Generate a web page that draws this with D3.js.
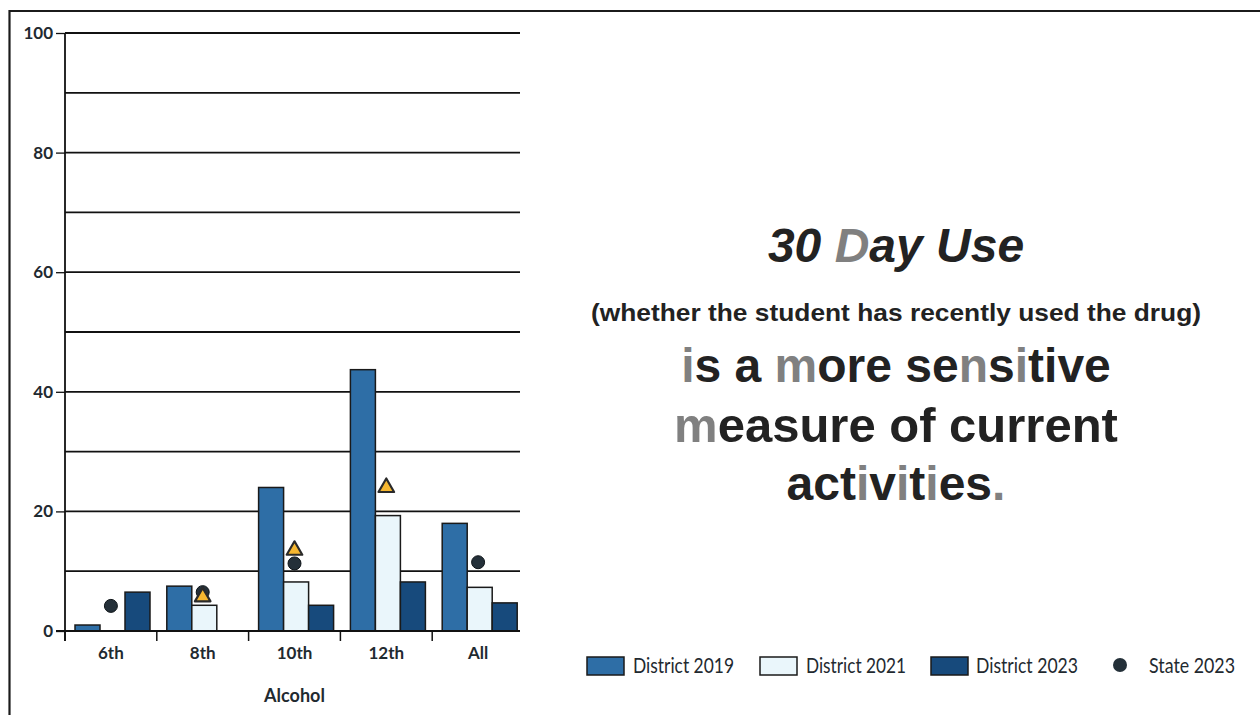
<!DOCTYPE html>
<html>
<head>
<meta charset="utf-8">
<script src="https://cdn.jsdelivr.net/npm/d3@7"></script>
<style>
  html, body { margin: 0; padding: 0; background: #fff; }
  svg { display: block; }
  .cond { font-family: Lato, "Open Sans", sans-serif; }
  .big { font-family: "Liberation Sans", Arial, sans-serif; font-weight: bold; fill: #222; }
</style>
</head>
<body>
<svg id="chart" width="1260" height="715"></svg>
<script>
// Grade groups and series (percent reporting 30-day alcohol use)
const categories = ["6th", "8th", "10th", "12th", "All"];
const seriesNames = ["District 2019", "District 2021", "District 2023"];
const district2019 = [1.0, 7.5, 24.0, 43.7, 18.0];
const district2021 = [null, 4.3, 8.2, 19.3, 7.3];
const district2023 = [6.5, null, 4.3, 8.2, 4.7];
const state2023 = [4.2, 6.5, 11.3, null, 11.5];
const triangleMarks = [null, 5.7, 13.5, 24.0, null];
const yTicks = [0, 20, 40, 60, 80, 100];
const gridValues = d3.range(0, 101, 10);
const xTitle = "Alcohol";

const colors = ["#2e6ea6", "#eaf6fb", "#174a7c"];

const svg = d3.select("#chart");

// Page frame
svg.append("line").attr("x1", 9).attr("x2", 1260).attr("y1", 11).attr("y2", 11)
  .attr("stroke", "#1b1b1b").attr("stroke-width", 2.2);
svg.append("line").attr("x1", 9.5).attr("x2", 9.5).attr("y1", 10).attr("y2", 715)
  .attr("stroke", "#1b1b1b").attr("stroke-width", 2.2);

const plotLeft = 65, plotRight = 524, gridRight = 520;
const y = d3.scaleLinear().domain([0, 100]).range([631, 33]);
const x = d3.scaleBand().domain(categories).range([plotLeft, plotRight]).paddingInner(0).paddingOuter(0);
const xs = d3.scaleBand().domain(seriesNames).range([10, 85]).padding(0);

const g = svg.append("g");

// Horizontal gridlines
g.selectAll("line.grid").data(gridValues).join("line")
  .attr("class", "grid")
  .attr("x1", plotLeft).attr("x2", gridRight)
  .attr("y1", d => y(d)).attr("y2", d => y(d))
  .attr("stroke", "#111").attr("stroke-width", 1.8);

// Y axis
const yAxis = d3.axisLeft(y).tickValues(yTicks).tickSize(9).tickPadding(3);
const yG = g.append("g").attr("transform", `translate(${plotLeft},0)`).call(yAxis);
yG.select(".domain").remove();
yG.selectAll(".tick line").attr("stroke", "#111").attr("stroke-width", 1.3);
yG.selectAll(".tick text").attr("class", "cond").style("font-size", "17px")
  .style("font-weight", "bold").attr("fill", "#1f2a30");
g.append("line").attr("x1", plotLeft).attr("x2", plotLeft).attr("y1", y(100)).attr("y2", y(0) + 10)
  .attr("stroke", "#111").attr("stroke-width", 1.8);

// Bars
const seriesData = [district2019, district2021, district2023];
seriesData.forEach((vals, si) => {
  g.append("g").selectAll("rect").data(vals.map((v, i) => ({ c: categories[i], v })).filter(d => d.v != null))
    .join("rect")
    .attr("x", d => x(d.c) + xs(seriesNames[si]))
    .attr("width", xs.bandwidth())
    .attr("y", d => y(d.v))
    .attr("height", d => y(0) - y(d.v))
    .attr("fill", colors[si])
    .attr("stroke", "#1a1a1a").attr("stroke-width", 1.5);
});

// X axis baseline and group ticks
g.append("line").attr("x1", plotLeft - 9).attr("x2", gridRight).attr("y1", y(0)).attr("y2", y(0))
  .attr("stroke", "#111").attr("stroke-width", 1.8);
g.selectAll("line.xtick").data(categories).join("line")
  .attr("class", "xtick")
  .attr("x1", d => x(d)).attr("x2", d => x(d))
  .attr("y1", y(0)).attr("y2", y(0) + 10)
  .attr("stroke", "#111").attr("stroke-width", 1.5);
g.selectAll("text.xlab").data(categories).join("text")
  .attr("class", "xlab cond")
  .attr("x", d => x(d) + x.bandwidth() / 2)
  .attr("y", 659)
  .attr("text-anchor", "middle")
  .style("font-size", "17px").style("font-weight", "bold").attr("fill", "#1f2a30")
  .text(d => d);
g.append("text").attr("class", "cond")
  .attr("x", (plotLeft + plotRight) / 2).attr("y", 702)
  .attr("text-anchor", "middle")
  .style("font-size", "18px").style("font-weight", "bold").attr("fill", "#1f2a30")
  .text(xTitle);

const center = c => x(c) + x.bandwidth() / 2;

// State markers
g.selectAll("circle.state").data(state2023.map((v, i) => ({ c: categories[i], v })).filter(d => d.v != null))
  .join("circle")
  .attr("class", "state")
  .attr("cx", d => center(d.c)).attr("cy", d => y(d.v)).attr("r", 6.5)
  .attr("fill", "#243039").attr("stroke", "#0e1418").attr("stroke-width", 1);

// Triangle markers
const tri = d3.symbol().type(d3.symbolTriangle).size(105);
g.selectAll("path.tri").data(triangleMarks.map((v, i) => ({ c: categories[i], v })).filter(d => d.v != null))
  .join("path")
  .attr("class", "tri")
  .attr("transform", d => `translate(${center(d.c)},${y(d.v)})`)
  .attr("d", tri)
  .attr("fill", "#f6b730").attr("stroke", "#2a2a2a").attr("stroke-width", 2.2)
  .attr("stroke-linejoin", "round");

// Legend
const legend = svg.append("g");
const legendItems = [
  { name: "District 2019", x: 587, tx: 633, w: 101, type: "rect", color: colors[0] },
  { name: "District 2021", x: 760, tx: 806, w: 100, type: "rect", color: colors[1] },
  { name: "District 2023", x: 931, tx: 976, w: 102, type: "rect", color: colors[2] },
  { name: "State 2023", x: 1120, tx: 1149, w: 86, type: "dot" }
];
legendItems.forEach(it => {
  if (it.type === "rect") {
    legend.append("rect").attr("x", it.x).attr("y", 657).attr("width", 37).attr("height", 18)
      .attr("fill", it.color).attr("stroke", "#1a1a1a").attr("stroke-width", 1.5);
  } else {
    legend.append("circle").attr("cx", it.x).attr("cy", 665).attr("r", 7)
      .attr("fill", "#243039");
  }
  legend.append("text").attr("class", "cond").attr("x", it.tx).attr("y", 673)
    .attr("textLength", it.w).attr("lengthAdjust", "spacingAndGlyphs")
    .style("font-size", "22px").attr("fill", "#1f2a30").text(it.name);
});

// Side note text; some letters are printed in a lighter grey
const note = svg.append("g");
function styledLine(parts, yPos, size, italic, len) {
  const t = note.append("text").attr("class", "big")
    .attr("x", 896).attr("y", yPos).attr("text-anchor", "middle")
    .style("font-size", size + "px");
  if (italic) t.style("font-style", "italic");
  if (len) t.attr("textLength", len).attr("lengthAdjust", "spacingAndGlyphs");
  parts.forEach(p => {
    const [str, grey] = Array.isArray(p) ? p : [p, false];
    t.append("tspan").text(str).attr("fill", grey ? "#808080" : "#222");
  });
}
styledLine(["30 ", ["D", true], "ay Use"], 262, 48, true);
styledLine(["(whether the student has recently used the drug)"], 321, 24, false, 610);
styledLine([["i", true], "s a ", ["m", true], "ore se", ["n", true], "s", ["i", true], "tive"], 382, 48, false);
styledLine([["m", true], "easure of current"], 442, 49, false);
styledLine(["act", ["i", true], "v", ["i", true], "t", ["i", true], "es", [".", true]], 500, 48, false);
</script>
</body>
</html>
